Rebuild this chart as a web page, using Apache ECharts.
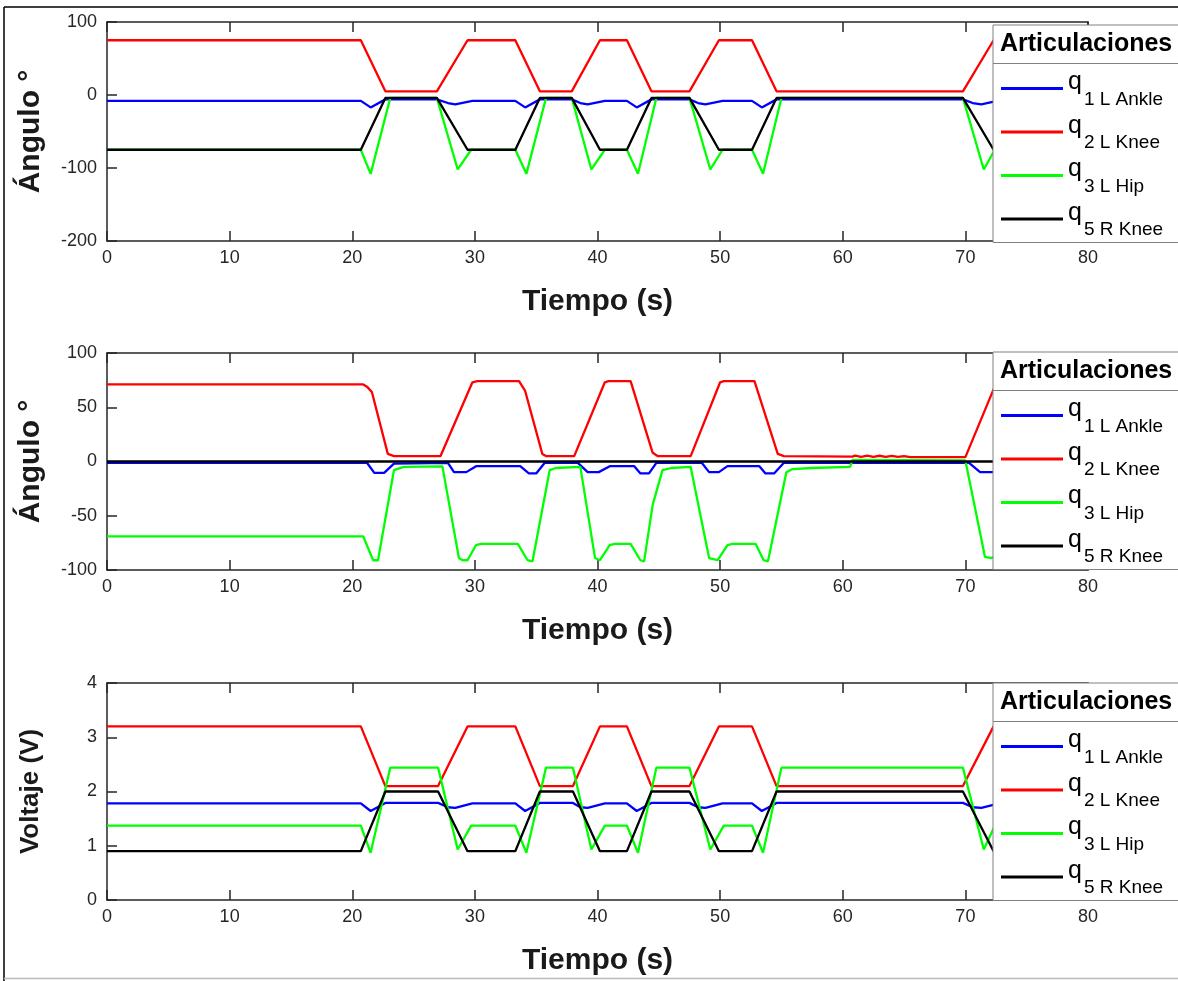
<!DOCTYPE html>
<html>
<head>
<meta charset="utf-8">
<script src="https://cdn.jsdelivr.net/npm/echarts@6/dist/echarts.min.js"></script>
<style>
html,body{margin:0;padding:0;background:#fff;}
#chart{width:1178px;height:981px;}
</style>
</head>
<body>
<div id="chart"></div>
<script>
// ---------- DATA (time [s], value) ----------
const seriesNames = ['q1 L Ankle', 'q2 L Knee', 'q3 L Hip', 'q5 R Knee'];
const xTicks = { min: 0, max: 80, interval: 10 };
const panelYAxes = [
  { name: 'Ángulo °', min: -200, max: 100, interval: 100 },
  { name: 'Ángulo °', min: -100, max: 100, interval: 50 },
  { name: 'Voltaje (V)', min: 0, max: 4, interval: 1 }
];
const legendTitle = 'Articulaciones';
const xName = 'Tiempo (s)';

// Panel 1: reference angles
const p1_q1 = [[0,-8],[20.7,-8],[21.5,-17],[22.7,-6],[26.9,-6],[27.8,-11],[28.4,-13],[29.8,-8],[33.3,-8],[34.1,-17],[35.3,-6],[37.9,-6],[38.6,-11],[39.2,-13],[40.6,-8],[42.4,-8],[43.2,-17],[44.4,-6],[47.5,-6],[48.2,-11],[48.8,-13],[50.2,-8],[52.6,-8],[53.4,-17],[54.6,-6],[69.8,-6],[70.6,-11],[71.3,-13],[72.6,-8],[74,-8]];
const p1_q2 = [[0,75],[20.7,75],[22.7,5],[26.9,5],[29.4,75],[33.3,75],[35.3,5],[37.9,5],[40.2,75],[42.4,75],[44.4,5],[47.5,5],[49.9,75],[52.6,75],[54.6,5],[69.8,5],[72.3,75],[74,75]];
const p1_q3 = [[0,-75],[20.7,-75],[21.5,-108],[23.1,-4],[26.9,-4],[28.6,-102],[29.7,-75],[33.3,-75],[34.2,-108],[35.8,-4],[37.9,-4],[39.5,-102],[40.6,-75],[42.4,-75],[43.3,-108],[44.8,-4],[47.5,-4],[49.2,-102],[50.2,-75],[52.6,-75],[53.5,-108],[55.0,-4],[69.8,-4],[71.5,-102],[72.4,-75],[74,-75]];
const p1_q5 = [[0,-75],[20.7,-75],[22.7,-4],[26.9,-4],[29.4,-75],[33.3,-75],[35.3,-4],[37.9,-4],[40.2,-75],[42.4,-75],[44.4,-4],[47.5,-4],[49.9,-75],[52.6,-75],[54.6,-4],[69.8,-4],[72.3,-75],[74,-75]];

// Panel 2: measured angles
const p2_q1 = [[0,-1.2],[21.2,-1.2],[21.8,-10.5],[22.6,-10.5],[23.4,-2],[27.8,-1.2],[28.3,-9.8],[29.3,-9.8],[30.1,-4.3],[33.7,-4.3],[34.4,-11],[35.0,-11],[35.7,-1.2],[38.4,-1.2],[39.2,-9.8],[40.1,-9.8],[41.0,-4.3],[43.0,-4.3],[43.5,-11],[44.2,-11],[44.8,-1.2],[48.5,-1.2],[49.1,-9.8],[49.9,-9.8],[50.6,-4.3],[53.2,-4.3],[53.7,-11],[54.4,-11],[55.2,-1.2],[70.3,-1.2],[71.2,-9.8],[74,-9.8]];
const p2_q2 = [[0,71],[20.9,71],[21.2,69],[21.6,64],[22.9,7],[23.4,5],[27.2,5],[29.8,73],[30.2,74],[33.6,74],[34.1,65],[35.5,7],[35.8,5],[38.1,5],[40.6,73],[40.9,74],[42.7,74],[44.5,8],[44.9,5],[47.6,5],[50.0,73],[50.3,74],[52.8,74],[54.7,7],[55.2,5],[60.8,4.5],[61,5.5],[61.5,4.3],[62,5.5],[62.5,4.3],[63,5.3],[63.5,4.2],[64,5.2],[64.5,4.2],[65,5],[65.5,4],[70,4],[72.5,72],[74,74]];
const p2_q3 = [[0,-69],[20.9,-69],[21.7,-91],[22.1,-91],[23.4,-8],[24.2,-5],[27.35,-4.5],[28.7,-89],[29.0,-91],[29.4,-91],[30.1,-77],[30.5,-76],[33.5,-76],[34.3,-91],[34.7,-92],[36.1,-8],[36.6,-6],[38.6,-5],[39.8,-89],[40.2,-91],[41.0,-77],[41.4,-76],[42.7,-76],[43.5,-91],[43.8,-92],[44.5,-40],[45.3,-8],[46.0,-6],[47.6,-5],[49.1,-89],[49.8,-91],[50.6,-77],[51.0,-76],[52.9,-76],[53.55,-91],[53.9,-92],[55.4,-10],[55.9,-7],[57.5,-6],[60.6,-5],[60.8,1.5],[70,1],[71.6,-88],[72.1,-89],[74,-80]];
const p2_q5 = [[0,0],[80,0]];

// Panel 3: voltages
const p3_q1 = [[0,1.78],[20.7,1.78],[21.5,1.64],[22.7,1.79],[27.0,1.79],[27.8,1.71],[28.4,1.70],[29.8,1.78],[33.3,1.78],[34.1,1.64],[35.3,1.79],[38.0,1.79],[38.6,1.71],[39.2,1.70],[40.6,1.78],[42.4,1.78],[43.2,1.64],[44.4,1.79],[47.5,1.79],[48.2,1.71],[48.8,1.70],[50.2,1.78],[52.6,1.78],[53.4,1.64],[54.6,1.79],[69.8,1.79],[70.6,1.71],[71.3,1.70],[72.6,1.77],[74,1.78]];
const p3_q2 = [[0,3.2],[20.7,3.2],[22.7,2.1],[27.0,2.1],[29.4,3.2],[33.3,3.2],[35.3,2.1],[38.0,2.1],[40.2,3.2],[42.4,3.2],[44.4,2.1],[47.5,2.1],[49.9,3.2],[52.6,3.2],[54.6,2.1],[69.8,2.1],[72.3,3.2],[74,3.2]];
const p3_q3 = [[0,1.37],[20.7,1.37],[21.5,0.87],[23.1,2.44],[27.0,2.44],[28.6,0.93],[29.7,1.37],[33.3,1.37],[34.2,0.87],[35.8,2.44],[38.0,2.44],[39.5,0.93],[40.6,1.37],[42.4,1.37],[43.3,0.87],[44.8,2.44],[47.5,2.44],[49.2,0.93],[50.3,1.37],[52.6,1.37],[53.5,0.87],[55.0,2.44],[69.8,2.44],[71.5,0.93],[72.4,1.37],[74,1.37]];
const p3_q5 = [[0,0.9],[20.7,0.9],[22.7,2.0],[27.0,2.0],[29.4,0.9],[33.3,0.9],[35.3,2.0],[38.0,2.0],[40.2,0.9],[42.4,0.9],[44.4,2.0],[47.5,2.0],[49.9,0.9],[52.6,0.9],[54.6,2.0],[69.8,2.0],[72.3,0.9],[74,0.9]];

const panelData = [
  [p1_q1, p1_q2, p1_q3, p1_q5],
  [p2_q1, p2_q2, p2_q3, p2_q5],
  [p3_q1, p3_q2, p3_q3, p3_q5]
];

// ---------- STYLE / LAYOUT ----------
const colors = ['#0000ff', '#ff0000', '#00ff00', '#000000'];
const FONT = '"Liberation Sans", Arial, Helvetica, sans-serif';
const AX = '#262626';
const grids = [
  { left: 107, width: 981, top: 22, height: 219 },
  { left: 107, width: 981, top: 353, height: 217 },
  { left: 107, width: 981, top: 683, height: 217 }
];
const yNameSizes = [30, 30, 26];
const yNameGaps = [61, 61, 63];
const legendTops = [25, 352, 683];
const legendLeft = 993;

const xAxes = [], yAxes = [], series = [], legends = [], graphics = [];

grids.forEach((g, i) => {
  xAxes.push({
    type: 'value', gridIndex: i, min: xTicks.min, max: xTicks.max, interval: xTicks.interval,
    position: 'bottom',
    axisLine: { show: true, onZero: false, lineStyle: { color: AX, width: 1.5 } },
    axisTick: { show: true, inside: true, length: 10, lineStyle: { color: AX, width: 1.5 } },
    axisLabel: { fontSize: 18, color: AX, margin: 8, fontFamily: FONT },
    splitLine: { show: false },
    name: xName, nameLocation: 'middle', nameGap: 46,
    nameTextStyle: { fontSize: 30, fontWeight: 'bold', color: '#1a1a1a', fontFamily: FONT }
  });
  xAxes.push({
    type: 'value', gridIndex: i, min: xTicks.min, max: xTicks.max, interval: xTicks.interval,
    position: 'top',
    axisLine: { show: true, onZero: false, lineStyle: { color: AX, width: 1.5 } },
    axisTick: { show: true, inside: true, length: 10, lineStyle: { color: AX, width: 1.5 } },
    axisLabel: { show: false }, splitLine: { show: false }
  });
  const ya = panelYAxes[i];
  yAxes.push({
    type: 'value', gridIndex: i, min: ya.min, max: ya.max, interval: ya.interval,
    position: 'left',
    axisLine: { show: true, onZero: false, lineStyle: { color: AX, width: 1.5 } },
    axisTick: { show: true, inside: true, length: 10, lineStyle: { color: AX, width: 1.5 } },
    axisLabel: { fontSize: 18, color: AX, margin: 10, fontFamily: FONT },
    splitLine: { show: false },
    name: ya.name, nameLocation: 'middle', nameGap: yNameGaps[i], nameRotate: 90,
    nameTextStyle: { fontSize: yNameSizes[i], fontWeight: 'bold', color: '#1a1a1a', fontFamily: FONT }
  });
  yAxes.push({
    type: 'value', gridIndex: i, min: ya.min, max: ya.max, interval: ya.interval,
    position: 'right',
    axisLine: { show: true, onZero: false, lineStyle: { color: AX, width: 1.5 } },
    axisTick: { show: false }, axisLabel: { show: false }, splitLine: { show: false }
  });

  panelData[i].forEach((d, k) => {
    series.push({
      type: 'line', name: seriesNames[k], data: d,
      xAxisIndex: i * 2, yAxisIndex: i * 2,
      symbol: 'none', showSymbol: false,
      lineStyle: { color: colors[k], width: 2.3 },
      itemStyle: { color: colors[k] },
      animation: false, z: 2
    });
  });

  legends.push({
    orient: 'vertical', left: legendLeft, top: legendTops[i],
    data: seriesNames, selectedMode: false,
    icon: 'rect', itemWidth: 62, itemHeight: 3, itemGap: 4.5,
    padding: [45, 30, 3, 8],
    backgroundColor: '#ffffff', borderColor: '#808080', borderWidth: 1, borderRadius: 0,
    z: 10,
    formatter: name => '{q|q}{s|' + name.slice(1) + '}',
    textStyle: {
      color: '#000', fontFamily: FONT,
      rich: {
        q: { fontSize: 25, lineHeight: 36, height: 24, verticalAlign: 'top', fontFamily: FONT, color: '#000' },
        s: { fontSize: 19, lineHeight: 36, height: 14, verticalAlign: 'bottom', padding: [0, 0, 0, 2], fontFamily: FONT, color: '#000' }
      }
    }
  });

  const t = legendTops[i];
  graphics.push({
    type: 'text', z: 100, x: 1000, y: t + 19,
    style: { text: legendTitle, font: 'bold 25px ' + FONT, fill: '#000', textVerticalAlign: 'middle', textAlign: 'left' }
  });
  graphics.push({
    type: 'line', z: 100,
    shape: { x1: legendLeft, y1: t + 38.5, x2: 1178, y2: t + 38.5 },
    style: { stroke: '#808080', lineWidth: 1 }
  });
});

// figure frame
graphics.push({ type: 'line', z: 100, shape: { x1: 4, y1: 7, x2: 1178, y2: 7 }, style: { stroke: '#000', lineWidth: 1.5 } });
graphics.push({ type: 'line', z: 100, shape: { x1: 4, y1: 7, x2: 4, y2: 981 }, style: { stroke: '#000', lineWidth: 1.5 } });
graphics.push({ type: 'line', z: 100, shape: { x1: 4, y1: 978.5, x2: 1178, y2: 978.5 }, style: { stroke: '#bbbbbb', lineWidth: 1.5 } });

const chart = echarts.init(document.getElementById('chart'), null, { renderer: 'canvas' });
chart.setOption({
  backgroundColor: '#ffffff',
  animation: false,
  grid: grids,
  xAxis: xAxes,
  yAxis: yAxes,
  legend: legends,
  series: series,
  graphic: graphics
});
</script>
</body>
</html>
